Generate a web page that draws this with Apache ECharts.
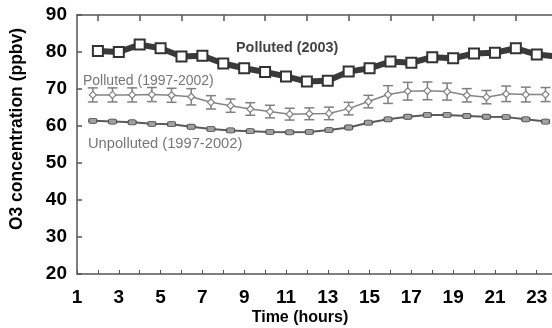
<!DOCTYPE html>
<html>
<head>
<meta charset="utf-8">
<script src="https://cdn.jsdelivr.net/npm/echarts@6/dist/echarts.min.js"></script>
<style>html,body{margin:0;padding:0;background:#fff;}#c{width:552px;height:328px;}</style>
</head>
<body>
<div id="c"></div>
<script>
// ---- data ----
const hoursPolluted2003 = [2,3,4,5,6,7,8,9,10,11,12,13,14,15,16,17,18,19,20,21,22,23,24];
const polluted2003 = [80.3,80.0,82.0,81.0,78.8,79.0,76.9,75.6,74.6,73.4,72.0,72.2,74.7,75.6,77.4,77.1,78.6,78.3,79.6,79.8,81.0,79.3,78.8];
const hours9702 = [1,2,3,4,5,6,7,8,9,10,11,12,13,14,15,16,17,18,19,20,21,22,23,24];
const polluted9702 = [68.4,68.4,68.4,68.5,68.3,67.9,66.4,65.5,64.6,63.9,63.2,63.3,63.4,64.7,66.6,68.5,69.4,69.5,69.3,68.3,67.8,68.7,68.5,68.5];
const polluted9702Err = [1.9,1.9,1.9,1.9,1.9,2.2,1.8,1.8,1.7,1.7,1.6,1.6,1.7,1.7,1.7,2.4,2.4,2.4,2.3,1.8,1.8,2.1,2.0,1.9];
const unpolluted9702 = [61.4,61.2,61.0,60.6,60.5,59.8,59.2,58.8,58.6,58.4,58.3,58.4,58.9,59.6,60.9,61.8,62.5,63.0,63.0,62.7,62.5,62.4,61.8,61.2];
const unpolluted9702Err = [0.6,0.6,0.6,0.6,0.6,0.6,0.6,0.6,0.6,0.6,0.6,0.6,0.6,0.6,0.6,0.6,0.6,0.6,0.6,0.6,0.6,0.6,0.6,0.6];
const xLabelValues = [1,3,5,7,9,11,13,15,17,19,21,23];
const topTickValues = [2,4,6,8,10,12,14,16,18,20,22];
const yTicks = [20,30,40,50,60,70,80,90];

const FONT = 'Liberation Sans, Arial, sans-serif';

function pairs(xs, ys) { return xs.map((x, i) => [x, ys[i]]); }
function errData(xs, ys, es) { return xs.map((x, i) => [x, ys[i] - es[i], ys[i] + es[i]]); }

function errRender(cap, color, width) {
  return function (params, api) {
    const x = api.value(0);
    const lo = api.coord([x, api.value(1)]);
    const hi = api.coord([x, api.value(2)]);
    const st = { stroke: color, lineWidth: width };
    return {
      type: 'group',
      children: [
        { type: 'line', shape: { x1: lo[0], y1: lo[1], x2: hi[0], y2: hi[1] }, style: st },
        { type: 'line', shape: { x1: lo[0] - cap, y1: lo[1], x2: lo[0] + cap, y2: lo[1] }, style: st },
        { type: 'line', shape: { x1: hi[0] - cap, y1: hi[1], x2: hi[0] + cap, y2: hi[1] }, style: st }
      ]
    };
  };
}

const chart = echarts.init(document.getElementById('c'), null, { renderer: 'canvas' });
const axisLineStyle = { color: '#555', width: 1.5 };
chart.setOption({
  animation: false,
  backgroundColor: '#fff',
  grid: { left: 77, right: 0, top: 15, bottom: 54, containLabel: false },
  xAxis: [
    {
      type: 'value', position: 'bottom', min: 1, max: 23.73, interval: 1,
      axisLine: { show: true, lineStyle: axisLineStyle, onZero: false },
      axisTick: { show: true, inside: true, length: 4, lineStyle: { color: '#555', width: 1 } },
      axisLabel: { customValues: xLabelValues, margin: 14, color: '#000', fontFamily: FONT, fontWeight: 'bold', fontSize: 19 },
      splitLine: { show: false }
    },
    {
      type: 'value', position: 'top', min: 1, max: 23.73, interval: 1,
      axisLine: { show: true, lineStyle: axisLineStyle, onZero: false },
      axisTick: { show: true, inside: true, length: 6, customValues: topTickValues, lineStyle: { color: '#555', width: 1.5 } },
      axisLabel: { show: false },
      splitLine: { show: false }
    },
    {
      type: 'value', show: false, min: 0.197, max: 24.33
    }
  ],
  yAxis: {
    type: 'value', min: 20, max: 90, interval: 10,
    axisLine: { show: true, lineStyle: axisLineStyle, onZero: false },
    axisTick: { show: true, inside: true, length: 5, lineStyle: { color: '#555', width: 1.5 } },
    axisLabel: { customValues: yTicks, margin: 10, color: '#000', fontFamily: FONT, fontWeight: 'bold', fontSize: 19 },
    splitLine: { show: false }
  },
  graphic: [
    { type: 'text', x: 17, y: 129, rotation: Math.PI / 2,
      style: { text: 'O3 concentration (ppbv)', font: 'bold 17.5px ' + FONT, fill: '#000', align: 'center', verticalAlign: 'middle' } },
    { type: 'text', x: 300, y: 318,
      style: { text: 'Time (hours)', font: 'bold 16px ' + FONT, fill: '#000', align: 'center', verticalAlign: 'middle' } },
    { type: 'text', x: 236, y: 48, z: 10,
      style: { text: 'Polluted (2003)', font: 'bold 14.4px ' + FONT, fill: '#444', align: 'left', verticalAlign: 'middle' } },
    { type: 'text', x: 83, y: 81, z: 10,
      style: { text: 'Polluted (1997-2002)', font: '14px ' + FONT, fill: '#777', align: 'left', verticalAlign: 'middle' } },
    { type: 'text', x: 88, y: 144, z: 10,
      style: { text: 'Unpolluted (1997-2002)', font: '14.7px ' + FONT, fill: '#777', align: 'left', verticalAlign: 'middle' } }
  ],
  series: [
    {
      name: 'Unpolluted err', type: 'custom', xAxisIndex: 2, z: 2,
      data: errData(hours9702, unpolluted9702, unpolluted9702Err),
      renderItem: errRender(3, '#666', 1), silent: true, clip: true
    },
    {
      name: 'Unpolluted (1997-2002)', type: 'line', xAxisIndex: 2, z: 3,
      data: pairs(hours9702, unpolluted9702),
      lineStyle: { color: '#5a5a5a', width: 2 },
      symbol: 'roundRect', symbolSize: [8, 5],
      itemStyle: { color: '#a0a0a0', borderColor: '#555', borderWidth: 1 }
    },
    {
      name: 'Polluted err', type: 'custom', xAxisIndex: 2, z: 4,
      data: errData(hours9702, polluted9702, polluted9702Err),
      renderItem: errRender(5, '#808080', 1.5), silent: true, clip: true
    },
    {
      name: 'Polluted (1997-2002)', type: 'line', xAxisIndex: 2, z: 5,
      data: pairs(hours9702, polluted9702),
      lineStyle: { color: '#858585', width: 1.5 },
      symbol: 'diamond', symbolSize: 7,
      itemStyle: { color: '#fff', borderColor: '#808080', borderWidth: 1.2 }
    },
    {
      name: 'Polluted (2003)', type: 'line', xAxisIndex: 0, z: 6,
      data: pairs(hoursPolluted2003, polluted2003),
      lineStyle: { color: '#3a3a3a', width: 6 },
      symbol: 'rect', symbolSize: 10,
      itemStyle: { color: '#fff', borderColor: '#333', borderWidth: 2 }
    }
  ]
});
</script>
</body>
</html>
